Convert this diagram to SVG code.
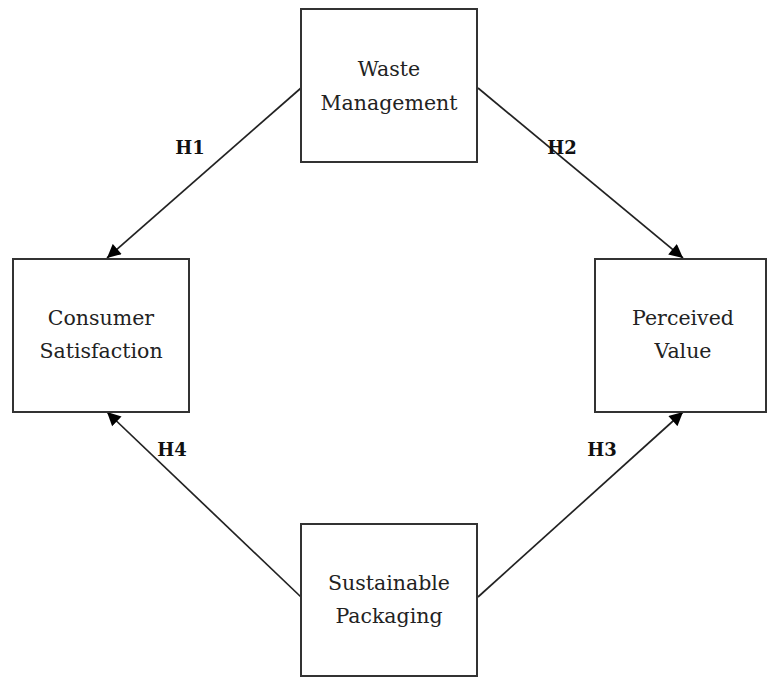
<svg xmlns="http://www.w3.org/2000/svg" width="767" height="677" viewBox="0 0 767 677">
<defs>
<style>
.box{fill:#fff;stroke:#333;stroke-width:2}
.t{font-family:"DejaVu Serif","Liberation Serif",serif;font-size:20.5px;fill:#222;text-anchor:middle}
.h{font-family:"DejaVu Serif","Liberation Serif",serif;font-size:18px;font-weight:bold;fill:#111;text-anchor:middle}
.c{stroke:#222;stroke-width:1.7;fill:none;marker-end:url(#ah)}
</style>
<marker id="ah" viewBox="0 0 10 10" refX="10" refY="5" markerWidth="8.5" markerHeight="8" markerUnits="strokeWidth" orient="auto">
<path d="M0,0 L10,5 L0,10 z" fill="#000"/>
</marker>
</defs>
<rect width="767" height="677" fill="#fff"/>
<g id="connectors">
<line class="c" x1="301" y1="88" x2="107" y2="258"/>
<line class="c" x1="478" y1="88" x2="683" y2="258"/>
<line class="c" x1="301" y1="597" x2="107" y2="412"/>
<line class="c" x1="478" y1="597" x2="683" y2="412"/>
<text class="h" x="190" y="154">H1</text>
<text class="h" x="562" y="154">H2</text>
<text class="h" x="172" y="456">H4</text>
<text class="h" x="602" y="456">H3</text>
</g>
<g id="waste">
<rect class="box" x="301" y="9" width="176" height="153"/>
<text class="t" x="389" y="76">Waste</text>
<text class="t" x="389" y="110">Management</text>
</g>
<g id="consumer">
<rect class="box" x="13" y="259" width="176" height="153"/>
<text class="t" x="101" y="325">Consumer</text>
<text class="t" x="101" y="358">Satisfaction</text>
</g>
<g id="perceived">
<rect class="box" x="595" y="259" width="171" height="153"/>
<text class="t" x="683" y="325">Perceived</text>
<text class="t" x="683" y="358">Value</text>
</g>
<g id="packaging">
<rect class="box" x="301" y="524" width="176" height="152"/>
<text class="t" x="389" y="590">Sustainable</text>
<text class="t" x="389" y="623">Packaging</text>
</g>
</svg>
